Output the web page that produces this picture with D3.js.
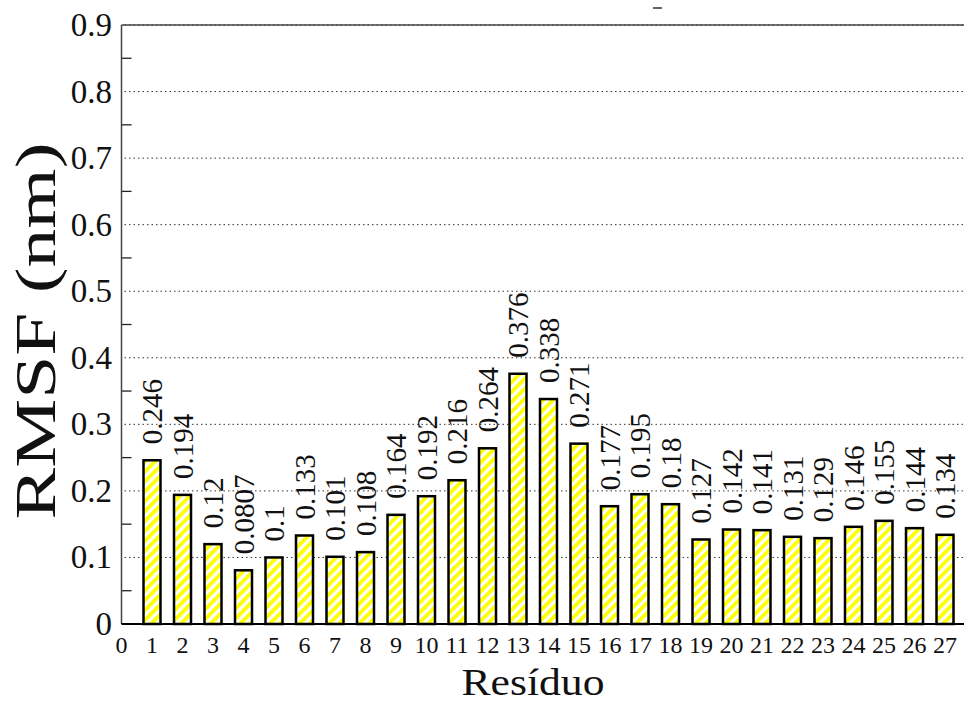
<!DOCTYPE html>
<html>
<head>
<meta charset="utf-8">
<script src="https://cdn.jsdelivr.net/npm/d3@7"></script>
<style>
  html, body { margin: 0; padding: 0; background: #fff; }
  svg { display: block; }
  svg text { font-family: "Liberation Serif", "Times New Roman", "DejaVu Serif", serif; }
</style>
</head>
<body>
<svg id="chart" width="964" height="702"></svg>
<script>
// RMSF per residue
const residues = d3.range(1, 28);
const rmsf = [0.246, 0.194, 0.12, 0.0807, 0.1, 0.133, 0.101, 0.108, 0.164, 0.192,
              0.216, 0.264, 0.376, 0.338, 0.271, 0.177, 0.195, 0.18, 0.127, 0.142,
              0.141, 0.131, 0.129, 0.146, 0.155, 0.144, 0.134];
const rmsfLabels = ["0.246", "0.194", "0.12", "0.0807", "0.1", "0.133", "0.101", "0.108", "0.164", "0.192",
                    "0.216", "0.264", "0.376", "0.338", "0.271", "0.177", "0.195", "0.18", "0.127", "0.142",
                    "0.141", "0.131", "0.129", "0.146", "0.155", "0.144", "0.134"];
const xTicks = d3.range(0, 28);
const yMajor = [0, 0.1, 0.2, 0.3, 0.4, 0.5, 0.6, 0.7, 0.8, 0.9];
const yMinor = [0.05, 0.15, 0.25, 0.35, 0.45, 0.55, 0.65, 0.75, 0.85];

const serif = "Liberation Serif, Times New Roman, DejaVu Serif, serif";
const svg = d3.select("#chart").attr("font-family", serif);
const plotLeft = 121.5, plotTop = 25, plotBottom = 624, plotRight = 975.5;

const x = d3.scaleLinear().domain([0, 28]).range([plotLeft, plotRight]);
const y = d3.scaleLinear().domain([0, 0.9]).range([plotBottom, plotTop]);

// diagonal yellow hatch
const defs = svg.append("defs");
const pat = defs.append("pattern")
  .attr("id", "hatch")
  .attr("patternUnits", "userSpaceOnUse")
  .attr("width", 7).attr("height", 7)
  .attr("patternTransform", "rotate(45)");
pat.append("rect").attr("width", 7).attr("height", 7).attr("fill", "#fff");
pat.append("rect").attr("width", 3.8).attr("height", 7).attr("fill", "#ffff00");

// dotted grid at major values
svg.append("g").selectAll("line")
  .data(yMajor.filter(v => v > 0))
  .join("line")
  .attr("x1", plotLeft + 3).attr("x2", plotRight)
  .attr("y1", d => y(d)).attr("y2", d => y(d))
  .attr("stroke", "#333").attr("stroke-width", 1)
  .attr("stroke-dasharray", "1.5,3");

// minor ticks on the left axis
svg.append("g").selectAll("line")
  .data(yMinor)
  .join("line")
  .attr("x1", plotLeft).attr("x2", plotLeft + 10)
  .attr("y1", d => y(d)).attr("y2", d => y(d))
  .attr("stroke", "#222").attr("stroke-width", 1.3);

// frame
svg.append("line").attr("x1", plotLeft).attr("x2", plotRight).attr("y1", plotTop).attr("y2", plotTop)
  .attr("stroke", "#444").attr("stroke-width", 1.5);
svg.append("line").attr("x1", plotLeft).attr("x2", plotLeft).attr("y1", plotTop).attr("y2", plotBottom)
  .attr("stroke", "#444").attr("stroke-width", 1.5);

// bars
const bw = 17;
svg.append("g").selectAll("rect")
  .data(rmsf)
  .join("rect")
  .attr("x", (d, i) => x(residues[i]) - bw / 2)
  .attr("y", d => y(d))
  .attr("width", bw)
  .attr("height", d => y(0) - y(d))
  .attr("fill", "url(#hatch)")
  .attr("stroke", "#000")
  .attr("stroke-width", 2.5);

// bottom axis line
svg.append("line").attr("x1", plotLeft).attr("x2", plotRight).attr("y1", plotBottom).attr("y2", plotBottom)
  .attr("stroke", "#000").attr("stroke-width", 2);

// value labels, rotated
svg.append("g").selectAll("text")
  .data(rmsf)
  .join("text")
  .attr("transform", (d, i) => `translate(${x(residues[i]) + 10},${y(d) - 16}) rotate(-90)`)
  .attr("font-family", serif)
  .attr("font-size", 29)
  .attr("fill", "#111")
  .text((d, i) => rmsfLabels[i]);

// y tick labels
svg.append("g").selectAll("text")
  .data(yMajor)
  .join("text")
  .attr("x", 112)
  .attr("y", d => y(d) + 11)
  .attr("text-anchor", "end")
  .attr("font-family", serif)
  .attr("font-size", 33)
  .attr("fill", "#111")
  .text(d => d === 0 ? "0" : d3.format(".1f")(d));

// x tick labels
svg.append("g").selectAll("text")
  .data(xTicks)
  .join("text")
  .attr("x", d => x(d))
  .attr("y", 653)
  .attr("text-anchor", "middle")
  .attr("font-family", serif)
  .attr("font-size", 24)
  .attr("fill", "#111")
  .text(d => d);

// axis titles
svg.append("text")
  .attr("x", 533).attr("y", 695)
  .attr("text-anchor", "middle")
  .attr("font-family", serif)
  .attr("font-size", 38)
  .attr("textLength", 143)
  .attr("lengthAdjust", "spacingAndGlyphs")
  .attr("fill", "#111")
  .text("Resíduo");

svg.append("text")
  .attr("transform", "translate(55,331) rotate(-90)")
  .attr("text-anchor", "middle")
  .attr("font-family", serif)
  .attr("font-size", 57)
  .attr("textLength", 377)
  .attr("lengthAdjust", "spacingAndGlyphs")
  .attr("fill", "#111")
  .text("RMSF (nm)");

// small stray legend stroke above the frame
svg.append("line").attr("x1", 653).attr("x2", 662).attr("y1", 8).attr("y2", 8)
  .attr("stroke", "#333").attr("stroke-width", 1.5);
</script>
</body>
</html>
